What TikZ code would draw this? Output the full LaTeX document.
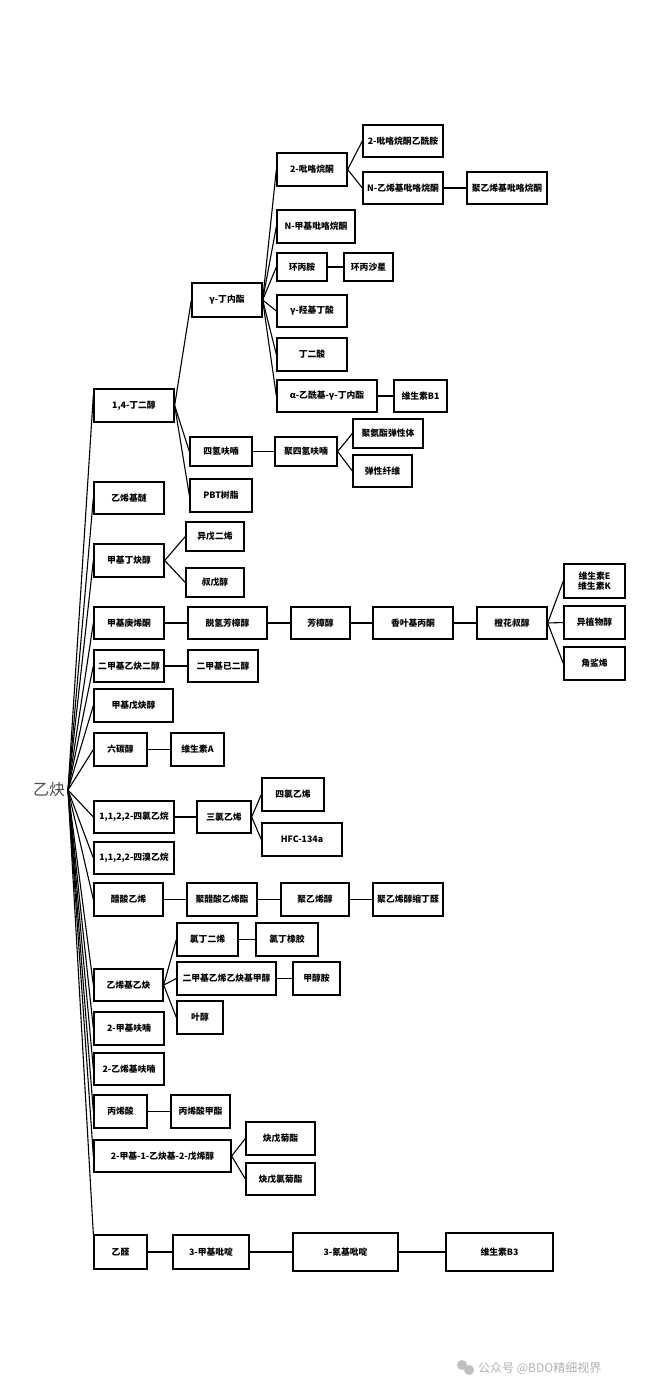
\documentclass[tikz,border=0pt]{standalone}
\usepackage{fontspec}
\setmainfont{Noto Sans CJK SC}
\usetikzlibrary{calc}
\tikzset{
  bx/.style={draw=black, line width=1.3pt, inner sep=0pt, align=center, fill=white,
    font=\bfseries\fontsize{8.8}{10.5}\selectfont},
  ln/.style={line width=1.1pt, black},
}
\newcommand\bx[6]{\node[bx, minimum width={(#4-#2)*1pt}, minimum height={(#5-#3)*1pt}] (#1) at ({(#2+#4)/2},{(#3+#5)/2}) {#6};}
\begin{document}
\begin{tikzpicture}[x=1pt,y=-1pt]
\useasboundingbox (0,0) rectangle (661,1397);
% root
\node[font=\fontsize{16}{16}\selectfont, text=black!70, inner sep=0pt] (root) at (49,789) {乙炔};
\coordinate (fan) at (68,790);
% level 1
\bx{a1}{94}{389}{174}{422}{1,4-丁二醇}
\bx{a2}{94}{482}{164}{514}{乙烯基醚}
\bx{a3}{94}{544}{164}{577}{甲基丁炔醇}
\bx{a4}{94}{607}{164}{639}{甲基庚烯酮}
\bx{a5}{94}{650}{164}{682}{二甲基乙炔二醇}
\bx{a6}{94}{689}{173}{722}{甲基戊炔醇}
\bx{a7}{94}{733}{147}{766}{六碳醇}
\bx{a8}{94}{801}{174}{833}{1,1,2,2-四氯乙烷}
\bx{a9}{94}{842}{174}{874}{1,1,2,2-四溴乙烷}
\bx{a10}{94}{883}{163}{916}{醋酸乙烯}
\bx{a11}{94}{969}{163}{1001}{乙烯基乙炔}
\bx{a12}{94}{1012}{164}{1045}{2-甲基呋喃}
\bx{a13}{94}{1053}{164}{1085}{2-乙烯基呋喃}
\bx{a14}{94}{1095}{147}{1128}{丙烯酸}
\bx{a15}{94}{1140}{231}{1172}{2-甲基-1-乙炔基-2-戊烯醇}
\bx{a16}{94}{1235}{147}{1269}{乙醛}
% 1,4-butanediol branch
\bx{gbl}{192}{283}{262}{317}{γ-丁内酯}
\bx{thf}{190}{437}{252}{466}{四氢呋喃}
\bx{pbt}{190}{479}{252}{512}{PBT树脂}
\bx{pyr}{277}{153}{347}{186}{2-吡咯烷酮}
\bx{nmp}{277}{210}{355}{243}{N-甲基吡咯烷酮}
\bx{cpa}{277}{253}{327}{281}{环丙胺}
\bx{ghb}{277}{295}{347}{327}{γ-羟基丁酸}
\bx{sa}{277}{338}{347}{371}{丁二酸}
\bx{aabl}{277}{380}{377}{412}{α-乙酰基-γ-丁内酯}
\bx{vb1}{394}{380}{447}{412}{维生素B1}
\bx{pyra}{363}{125}{443}{157}{2-吡咯烷酮乙酰胺}
\bx{nvp}{363}{172}{443}{204}{N-乙烯基吡咯烷酮}
\bx{pvp}{467}{172}{547}{204}{聚乙烯基吡咯烷酮}
\bx{cipro}{344}{253}{393}{281}{环丙沙星}
\bx{ptmeg}{275}{437}{337}{466}{聚四氢呋喃}
\bx{pu}{353}{419}{423}{448}{聚氨酯弹性体}
\bx{spx}{353}{455}{412}{487}{弹性纤维}
% methylbutynol
\bx{iso}{186}{522}{244}{551}{异戊二烯}
\bx{tap}{186}{568}{244}{597}{叔戊醇}
% methylheptenone chain
\bx{dhl}{188}{607}{267}{639}{脱氢芳樟醇}
\bx{lin}{291}{607}{350}{639}{芳樟醇}
\bx{ga}{373}{607}{453}{639}{香叶基丙酮}
\bx{ner}{477}{607}{547}{639}{橙花叔醇}
\bx{vek}{564}{564}{625}{598}{维生素E\\维生素K}
\bx{iph}{564}{606}{625}{639}{异植物醇}
\bx{sq}{564}{647}{625}{680}{角鲨烯}
% others
\bx{dmhx}{188}{650}{258}{682}{二甲基已二醇}
\bx{va}{171}{733}{224}{766}{维生素A}
\bx{tce}{197}{801}{251}{833}{三氯乙烯}
\bx{pce}{262}{778}{324}{811}{四氯乙烯}
\bx{hfc}{262}{823}{342}{856}{HFC-134a}
\bx{pvac}{187}{883}{257}{916}{聚醋酸乙烯酯}
\bx{pva}{281}{883}{349}{916}{聚乙烯醇}
\bx{pvb}{373}{883}{443}{916}{聚乙烯醇缩丁醛}
\bx{cp}{177}{923}{238}{956}{氯丁二烯}
\bx{cr}{256}{923}{318}{956}{氯丁橡胶}
\bx{dme}{177}{962}{276}{995}{二甲基乙烯乙炔基甲醇}
\bx{mea}{293}{962}{340}{995}{甲醇胺}
\bx{leaf}{177}{1001}{223}{1034}{叶醇}
\bx{ma}{171}{1095}{230}{1128}{丙烯酸甲酯}
\bx{py1}{246}{1122}{315}{1155}{炔戊菊酯}
\bx{py2}{246}{1163}{315}{1195}{炔戊氯菊酯}
\bx{mp3}{173}{1235}{249}{1269}{3-甲基吡啶}
\bx{cp3}{293}{1233}{398}{1271}{3-氰基吡啶}
\bx{vb3}{446}{1233}{553}{1271}{维生素B3}
% fan connectors from root
\draw[ln] (fan) -- ($(a1.north west)!0.2!(a1.south west)$);
\foreach \n in {a2,a3,a4,a5,a6,a7,a8,a9,a10,a11,a12,a13,a14,a15}
  \draw[ln] (fan) -- (\n.west);
\draw[ln] (fan) -- (a16.north west);
% other connectors
\foreach \a/\b in {a1/gbl,a1/thf,a1/pbt,gbl/pyr,gbl/nmp,gbl/cpa,gbl/ghb,gbl/sa,gbl/aabl,
  aabl/vb1,pyr/pyra,pyr/nvp,nvp/pvp,cpa/cipro,thf/ptmeg,ptmeg/pu,ptmeg/spx,
  a3/iso,a3/tap,a4/dhl,dhl/lin,lin/ga,ga/ner,ner/vek,ner/iph,ner/sq,a5/dmhx,a7/va,
  a8/tce,tce/pce,tce/hfc,a10/pvac,pvac/pva,pva/pvb,a11/cp,cp/cr,a11/dme,dme/mea,a11/leaf,
  a14/ma,a15/py1,a15/py2,a16/mp3,mp3/cp3,cp3/vb3}
  \draw[ln] (\a.east) -- (\b.west);
% watermark
\fill[black!25] (462,1365) circle (5);
\fill[black!25] (469,1370) circle (5);
\node[text=black!30, font=\fontsize{12}{12}\selectfont, anchor=west, inner sep=0pt] (wm) at (478,1368) {公众号 @BDO精细视界};
\end{tikzpicture}
\end{document}
